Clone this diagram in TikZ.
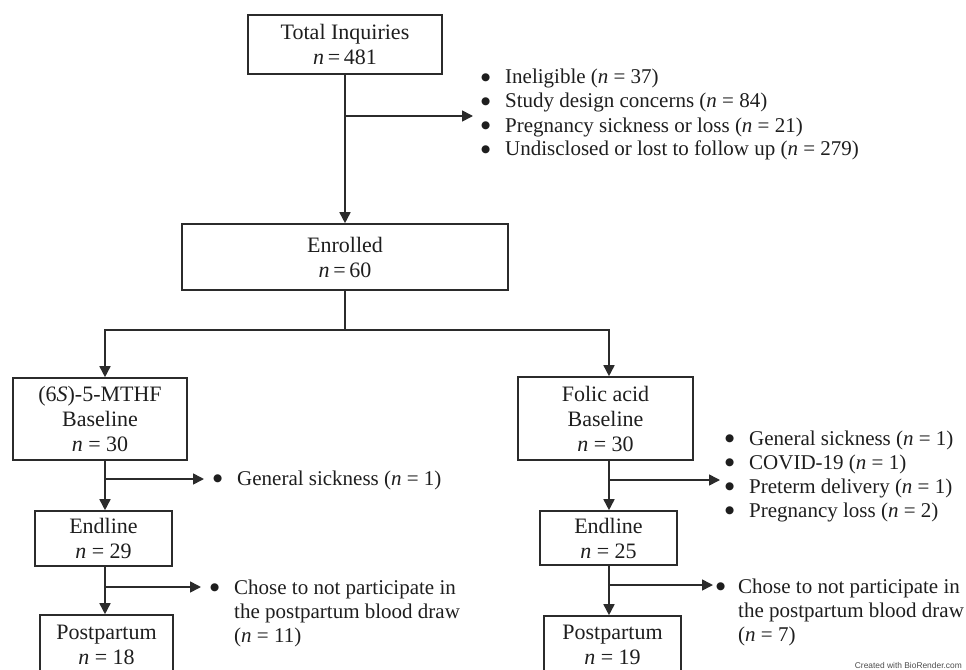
\documentclass[tikz,border=0pt]{standalone}
\usepackage{fontspec}
\setmainfont{Liberation Serif}
\newfontfamily\credfont{Liberation Sans}
\newfontfamily\symfont{DejaVu Sans}
\usetikzlibrary{arrows.meta}
\definecolor{linec}{HTML}{2B2B2B}
\definecolor{txtc}{HTML}{1E1E1E}
\newcommand{\bigdot}{\raisebox{3.4pt}{\symfont\fontsize{10.5}{10}\selectfont ●}}
\newcommand{\bul}{\makebox[24pt][l]{\bigdot}}
\newcommand{\ind}{\hspace*{24pt}}
\begin{document}
\begin{tikzpicture}[x=1pt,y=-1pt,
  box/.style={draw=linec, line width=1.6pt, align=center, inner sep=0pt,
    font=\fontsize{22}{25}\selectfont, text=txtc},
  conn/.style={draw=linec, line width=1.6pt},
  arr/.style={conn, -{Triangle[length=11pt,width=11pt]}},
  blist/.style={anchor=base west, inner sep=0pt,
    font=\fontsize{21}{24}\selectfont, text=txtc}]
\useasboundingbox (0,0) rectangle (966,669);
\clip (0,0) rectangle (966,669);

% boxes
\node[box, minimum width=194pt, minimum height=59pt] (tot) at (345,44.5) {Total Inquiries\\\textit{n}\,=\,481};
\node[box, minimum width=326pt, minimum height=66pt] (enr) at (345,257) {Enrolled\\\textit{n}\,=\,60};
\node[box, minimum width=174pt, minimum height=82pt] (six) at (100,419) {(6\textit{S})-5-MTHF\\Baseline\\\textit{n} = 30};
\node[box, minimum width=175pt, minimum height=83pt] (fol) at (605.5,418.5) {Folic acid\\Baseline\\\textit{n} = 30};
\node[box, minimum width=137pt, minimum height=55pt] (endL) at (103.5,538.5) {Endline\\\textit{n} = 29};
\node[box, minimum width=137pt, minimum height=54pt] (endR) at (608.5,538) {Endline\\\textit{n} = 25};
\node[box, minimum width=133pt, minimum height=59pt] (ppL) at (106.5,644.5) {Postpartum\\\textit{n} = 18};
\node[box, minimum width=137pt, minimum height=57pt] (ppR) at (612.5,644.5) {Postpartum\\\textit{n} = 19};

% columns
\coordinate (cM) at (345,0);
\coordinate (cL) at (105,0);
\coordinate (cR) at (609,0);

% top flow
\draw[arr] (tot.south -| cM) -- (enr.north -| cM);
\coordinate (t1) at (345,116);
\coordinate (t1e) at (473,116);
\draw[arr] (t1) -- (t1e);

% split
\coordinate (sp) at (345,330);
\draw[conn] (enr.south -| cM) -- (sp);
\draw[arr] (sp) -| (six.north -| cL);
\draw[arr] (sp) -| (fol.north -| cR);

% left column
\draw[arr] (six.south -| cL) -- (endL.north -| cL);
\draw[arr] (endL.south -| cL) -- (ppL.north -| cL);
\coordinate (l1) at (105,479);
\coordinate (l1e) at (204,479);
\draw[arr] (l1) -- (l1e);
\coordinate (l2) at (105,587);
\coordinate (l2e) at (201,587);
\draw[arr] (l2) -- (l2e);

% right column
\draw[arr] (fol.south -| cR) -- (endR.north -| cR);
\draw[arr] (endR.south -| cR) -- (ppR.north -| cR);
\coordinate (r1) at (609,480);
\coordinate (r1e) at (720,480);
\draw[arr] (r1) -- (r1e);
\coordinate (r2) at (609,585);
\coordinate (r2e) at (713,585);
\draw[arr] (r2) -- (r2e);

% bullet lists
\node[blist] (ex0) at (481,84) {\begin{tabular}[t]{@{}l@{}}
\bul Ineligible (\textit{n} = 37)\\
\bul Study design concerns (\textit{n} = 84)\\
\bul Pregnancy sickness or loss (\textit{n} = 21)\\
\bul Undisclosed or lost to follow up (\textit{n} = 279)
\end{tabular}};

\node[blist] (exL1) at (213,485) {\begin{tabular}[t]{@{}l@{}}
\bul General sickness (\textit{n} = 1)
\end{tabular}};

\node[blist] (exL2) at (210,594) {\begin{tabular}[t]{@{}l@{}}
\bul Chose to not participate in\\
\ind the postpartum blood draw\\
\ind (\textit{n} = 11)
\end{tabular}};

\node[blist] (exR1) at (725,445) {\begin{tabular}[t]{@{}l@{}}
\bul General sickness (\textit{n} = 1)\\
\bul COVID-19 (\textit{n} = 1)\\
\bul Preterm delivery (\textit{n} = 1)\\
\bul Pregnancy loss (\textit{n} = 2)
\end{tabular}};

\node[blist] (exR2) at (716,593) {\begin{tabular}[t]{@{}l@{}}
\makebox[22pt][l]{\bigdot}Chose to not participate in\\
\hspace*{22pt}the postpartum blood draw\\
\hspace*{22pt}(\textit{n} = 7)
\end{tabular}};

\node[anchor=base east, inner sep=0pt, text=black!70,
  font=\credfont\fontsize{8.4}{10}\selectfont] (cred) at (962,668.5) {Created with BioRender.com};
\end{tikzpicture}
\end{document}
